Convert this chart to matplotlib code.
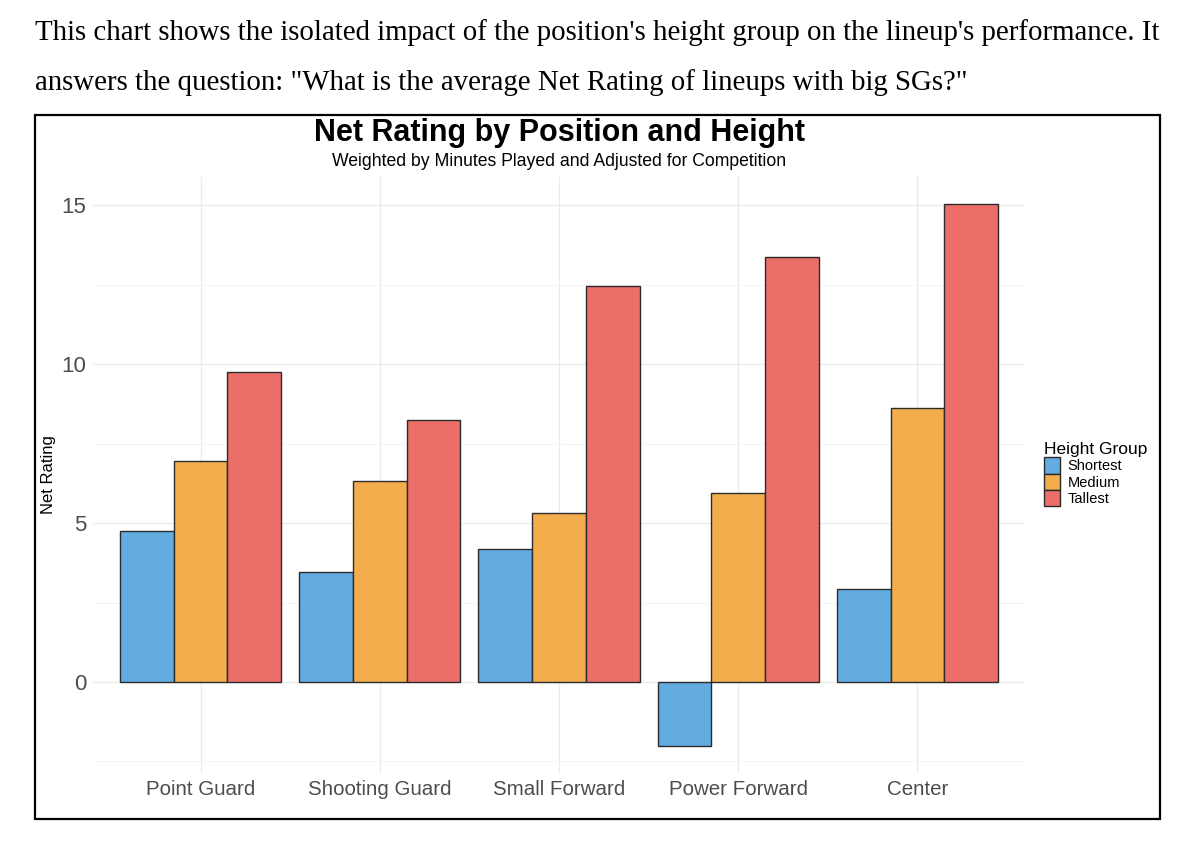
import matplotlib
matplotlib.use("Agg")
import matplotlib.pyplot as plt
import numpy as np
from matplotlib.patches import Rectangle, Patch

positions = ["Point Guard", "Shooting Guard", "Small Forward", "Power Forward", "Center"]
groups = ["Shortest", "Medium", "Tallest"]
shortest = [4.75, 3.46, 4.18, -2.01, 2.92]
medium = [6.95, 6.32, 5.31, 5.94, 8.62]
tallest = [9.75, 8.24, 12.45, 13.36, 15.03]
yticks = [0, 5, 10, 15]

colors = ["#62ACE2", "#F3AD4D", "#EB6F68"]

plt.rcParams["font.family"] = ["Liberation Sans", "DejaVu Sans"]

fig = plt.figure(figsize=(12, 8.67), dpi=100)

# top description text
fig.text(35/1200, 1-33/867, "This chart shows the isolated impact of the position's height group on the lineup's performance. It",
         family="Liberation Serif", fontsize=20.8, va="center", ha="left", color="black")
fig.text(35/1200, 1-83/867, "answers the question: \"What is the average Net Rating of lineups with big SGs?\"",
         family="Liberation Serif", fontsize=20.8, va="center", ha="left", color="black")

# border box
fig.patches.append(Rectangle((35/1200, 1-819/867), 1125/1200, 704/867, transform=fig.transFigure,
                             fill=False, edgecolor="black", linewidth=1.6))

ax = fig.add_axes([93/1200, 1-773/867, (1025-93)/1200, (773-177)/867])
x = np.arange(1, len(positions)+1)
w = 0.3
for i, (vals, c, g) in enumerate(zip([shortest, medium, tallest], colors, groups)):
    ax.bar(x + (i-1)*w, vals, width=w, color=c, edgecolor="#2b2b2b", linewidth=1.0, label=g, zorder=3)

ax.set_xlim(0.4, 5.6)
allv = shortest + medium + tallest
lo, hi = min(allv), max(allv)
pad = (hi-lo)*0.05
ax.set_ylim(lo-pad, hi+pad)
ax.set_xticks(x)
ax.set_xticklabels(positions, fontsize=14.8, color="#4d4d4d")
ax.set_yticks(yticks)
ax.set_yticklabels([str(v) for v in yticks], fontsize=16, color="#4d4d4d")
ax.set_yticks([-2.5, 2.5, 7.5, 12.5], minor=True)
ax.tick_params(axis="both", which="both", length=0)
ax.tick_params(axis="x", pad=5)
ax.tick_params(axis="y", pad=5)
ax.grid(True, which="major", color="#ebebeb", linewidth=1.0, zorder=0)
ax.grid(True, which="minor", axis="y", color="#f3f3f3", linewidth=0.6, zorder=0)
for s in ax.spines.values():
    s.set_visible(False)
ax.set_ylabel("Net Rating", fontsize=12, color="black", labelpad=4)

fig.text(559/1200, 1-133/867, "Net Rating by Position and Height", fontsize=22, fontweight="bold",
         ha="center", va="center")
fig.text(559/1200, 1-162/867, "Weighted by Minutes Played and Adjusted for Competition", fontsize=12.7,
         ha="center", va="center")

handles = [Patch(facecolor=c, edgecolor="#2b2b2b", linewidth=1.0) for c in colors]
leg = fig.legend(handles, groups, loc="upper left", bbox_to_anchor=(1034/1200, 1-432/867),
                 frameon=False, fontsize=10.5, title="Height Group", title_fontsize=12.5,
                 handlelength=1.1, handleheight=1.35, handletextpad=0.5, labelspacing=0.0,
                 alignment="left", borderpad=0.2)

fig.savefig("out.png", dpi=100, facecolor="white")
